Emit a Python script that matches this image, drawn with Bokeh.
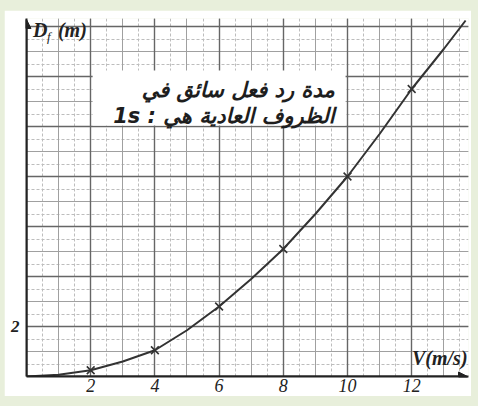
from bokeh.plotting import figure
from bokeh.models import FixedTicker, Grid, Label, BoxAnnotation, Arrow, NormalHead
from bokeh.embed import file_html
from bokeh.resources import INLINE

# measured points (crosses)
speed = [2, 4, 6, 8, 10, 12]
distance = [0.25, 1.05, 2.8, 5.1, 8.0, 11.5]

# drawn curve
curve_speed = [0, 1, 2, 3, 4, 5, 6, 7, 8, 9, 10, 11, 12, 13, 13.68]
curve_dist = [0, 0.07, 0.25, 0.6, 1.05, 1.85, 2.8, 3.9, 5.1, 6.5, 8.0, 9.7, 11.5, 13.1, 14.24]

x_ticks = [2, 4, 6, 8, 10, 12]
y_ticks = [2]
x_label_text = "V(m/s)"
y_label_main = "D"
y_label_sub = "f"
y_label_unit = "(m)"
note_line1 = "مدة رد فعل سائق في"
note_line2 = "الظروف العادية هي : 1s"

p = figure(width=467, height=386, x_range=(0, 13.77), y_range=(0, 14.32),
           output_backend="svg", toolbar_location=None,
           min_border_left=22, min_border_right=3, min_border_top=8, min_border_bottom=20,
           background_fill_color="white", border_fill_color="white",
           outline_line_color=None)

# graph paper grids
minor_x = [i * 0.5 for i in range(1, 28)]
minor_y = [i * 0.5 for i in range(1, 29)]
one_x = [i for i in range(1, 14)]
one_y = [i for i in range(1, 15)]
two_x = [i for i in range(2, 14, 2)]
two_y = [i for i in range(2, 15, 2)]

p.xgrid.ticker = FixedTicker(ticks=minor_x)
p.ygrid.ticker = FixedTicker(ticks=minor_y)
for g in (p.xgrid, p.ygrid):
    g.grid_line_color = "#bdbdbd"
    g.grid_line_width = 1
    g.grid_line_dash = "3 2"
p.add_layout(Grid(dimension=0, ticker=FixedTicker(ticks=one_x), grid_line_color="#a0a0a0", grid_line_width=1))
p.add_layout(Grid(dimension=1, ticker=FixedTicker(ticks=one_y), grid_line_color="#a0a0a0", grid_line_width=1))
p.add_layout(Grid(dimension=0, ticker=FixedTicker(ticks=two_x), grid_line_color="#666666", grid_line_width=1.4))
p.add_layout(Grid(dimension=1, ticker=FixedTicker(ticks=two_y), grid_line_color="#666666", grid_line_width=1.4))

# axes
p.xaxis.ticker = FixedTicker(ticks=x_ticks)
p.yaxis.ticker = FixedTicker(ticks=y_ticks)
for ax in (p.xaxis, p.yaxis):
    ax.axis_line_color = "#222222"
    ax.axis_line_width = 2
    ax.major_tick_line_color = None
    ax.minor_tick_line_color = None
    ax.major_tick_in = 0
    ax.major_tick_out = 0
    ax.major_label_text_font = "Liberation Serif"
    ax.major_label_text_font_style = "italic"
    ax.major_label_text_font_size = "18px"
    ax.major_label_text_color = "#222222"
p.xaxis.major_label_standoff = 2
p.yaxis.major_label_standoff = 7
p.yaxis.major_label_text_font_style = "bold italic"
p.yaxis.major_label_text_font_size = "17px"

# white note box
p.add_layout(BoxAnnotation(left=2.06, right=9.94, bottom=10.04, top=12.24,
                           fill_color="white", fill_alpha=1, line_color=None, level="underlay"))

# curve and crosses
p.line(curve_speed, curve_dist, line_width=2, color="#333333")
p.scatter(speed, distance, marker="x", size=11, line_width=1.6, color="#333333")

# arrow heads on axes
p.add_layout(Arrow(end=NormalHead(size=9, fill_color="#222222", line_color="#222222"),
                   x_start=0, y_start=0, x_end=13.74, y_end=0, line_color="#222222", line_width=2))
p.add_layout(Arrow(end=NormalHead(size=9, fill_color="#222222", line_color="#222222"),
                   x_start=0, y_start=0, x_end=0, y_end=14.28, line_color="#222222", line_width=2))

# axis titles
p.add_layout(Label(x=13.74, y=0.3, text=x_label_text, text_align="right", text_baseline="bottom",
                   text_font="Liberation Serif", text_font_style="bold italic",
                   text_font_size="20px", text_color="#222222"))
p.add_layout(Label(x=0.2, y=14.3, text=y_label_main, text_align="left", text_baseline="top",
                   text_font="Liberation Serif", text_font_style="bold italic",
                   text_font_size="20px", text_color="#222222"))
p.add_layout(Label(x=0.2, y=14.3, x_offset=14, y_offset=-10, text=y_label_sub, text_align="left",
                   text_baseline="top", text_font="Liberation Serif", text_font_style="italic",
                   text_font_size="13px", text_color="#222222"))
p.add_layout(Label(x=0.2, y=14.3, x_offset=25, text=y_label_unit, text_align="left", text_baseline="top",
                   text_font="Liberation Serif", text_font_style="bold italic",
                   text_font_size="20px", text_color="#222222"))

# Arabic note
p.add_layout(Label(x=9.6, y=11.45, text="\u202b" + note_line1 + "\u202c", text_align="right",
                   text_baseline="middle", text_font="DejaVu Sans", text_font_style="bold italic",
                   text_font_size="21px", text_color="#1e1e1e"))
p.add_layout(Label(x=9.6, y=10.42, text="\u202b" + note_line2 + "\u202c", text_align="right",
                   text_baseline="middle", text_font="DejaVu Sans", text_font_style="bold italic",
                   text_font_size="21px", text_color="#1e1e1e"))

html = file_html(p, INLINE)
idx = html.rfind("</head>")
if idx != -1:
    html = (html[:idx]
            + "<style>html, body { background-color: #e8efdb !important; }"
            + " body { padding: 10px 0 0 4px !important; }</style>\n"
            + html[idx:])
open("out.html", "w").write(html)
